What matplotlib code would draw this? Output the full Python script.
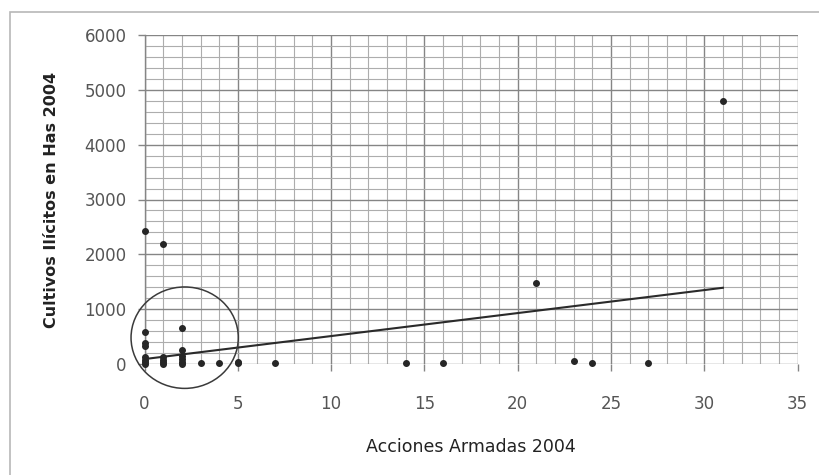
import matplotlib.pyplot as plt
import numpy as np
from matplotlib.patches import Ellipse, Rectangle

# Scatter values
acciones = [0, 1, 31, 21, 23, 24, 27, 14, 16, 7, 5, 5, 4, 3,
            2, 2, 2, 2, 2, 2,
            0, 0, 0, 0, 0, 0, 0,
            1, 1, 1, 1]
cultivos = [2430, 2180, 4800, 1470, 50, 10, 10, 10, 10, 10, 30, 10, 10, 10,
            650, 260, 150, 90, 30, 0,
            580, 390, 320, 130, 80, 30, 0,
            130, 80, 30, 0]

# Linear trend line (endpoints as read)
trend_x = [0, 31]
trend_y = [90, 1390]

x_ticks = [0, 5, 10, 15, 20, 25, 30, 35]
y_ticks = [0, 1000, 2000, 3000, 4000, 5000, 6000]

fig = plt.figure(figsize=(8.2, 4.75), dpi=100)
plt.rcParams['font.family'] = ['DejaVu Sans']

# outer chart frame (cut off at right/bottom like the original)
fig.patches.append(Rectangle((10 / 820, -0.1), 1.2, 1.1 - 12 / 475,
                             transform=fig.transFigure, fill=False,
                             edgecolor='#b8b8b8', linewidth=1.2))

ax = fig.add_axes([0.1763, 0.2337, 0.7963, 0.6926])
ax.set_xlim(0, 35)
ax.set_ylim(0, 6000)

ax.set_xticks(x_ticks)
ax.set_yticks(y_ticks)
ax.set_xticks(np.arange(0, 36, 1), minor=True)
ax.set_yticks(np.arange(0, 6001, 200), minor=True)
ax.grid(which='major', color='#858585', linewidth=1.0)
ax.grid(which='minor', color='#adadad', linewidth=0.8)
ax.set_axisbelow(True)

for s in ['top', 'right', 'bottom']:
    ax.spines[s].set_visible(False)
ax.spines['left'].set_color('#858585')
ax.spines['left'].set_linewidth(1.0)

ax.tick_params(which='major', length=5, width=1.0, color='#858585',
               labelsize=12, labelcolor='#555555', pad=8)
ax.tick_params(axis='x', pad=17)
ax.tick_params(which='minor', length=0)

ax.plot(trend_x, trend_y, color='#2a2a2a', linewidth=1.5, zorder=3)
ax.scatter(acciones, cultivos, s=16, color='#262626', zorder=4, clip_on=False)

ax.add_patch(Ellipse((2.15, 480), 5.75, 1850, fill=False,
                     edgecolor='#3a3a3a', linewidth=1.1, clip_on=False, zorder=5))

ax.set_xlabel('Acciones Armadas 2004', fontsize=12.5, color='#222222', labelpad=18)
ax.set_ylabel('Cultivos Ilícitos en Has 2004', fontsize=11.5, fontweight='bold',
              color='#222222', labelpad=18)

plt.savefig('out.png', dpi=100)
